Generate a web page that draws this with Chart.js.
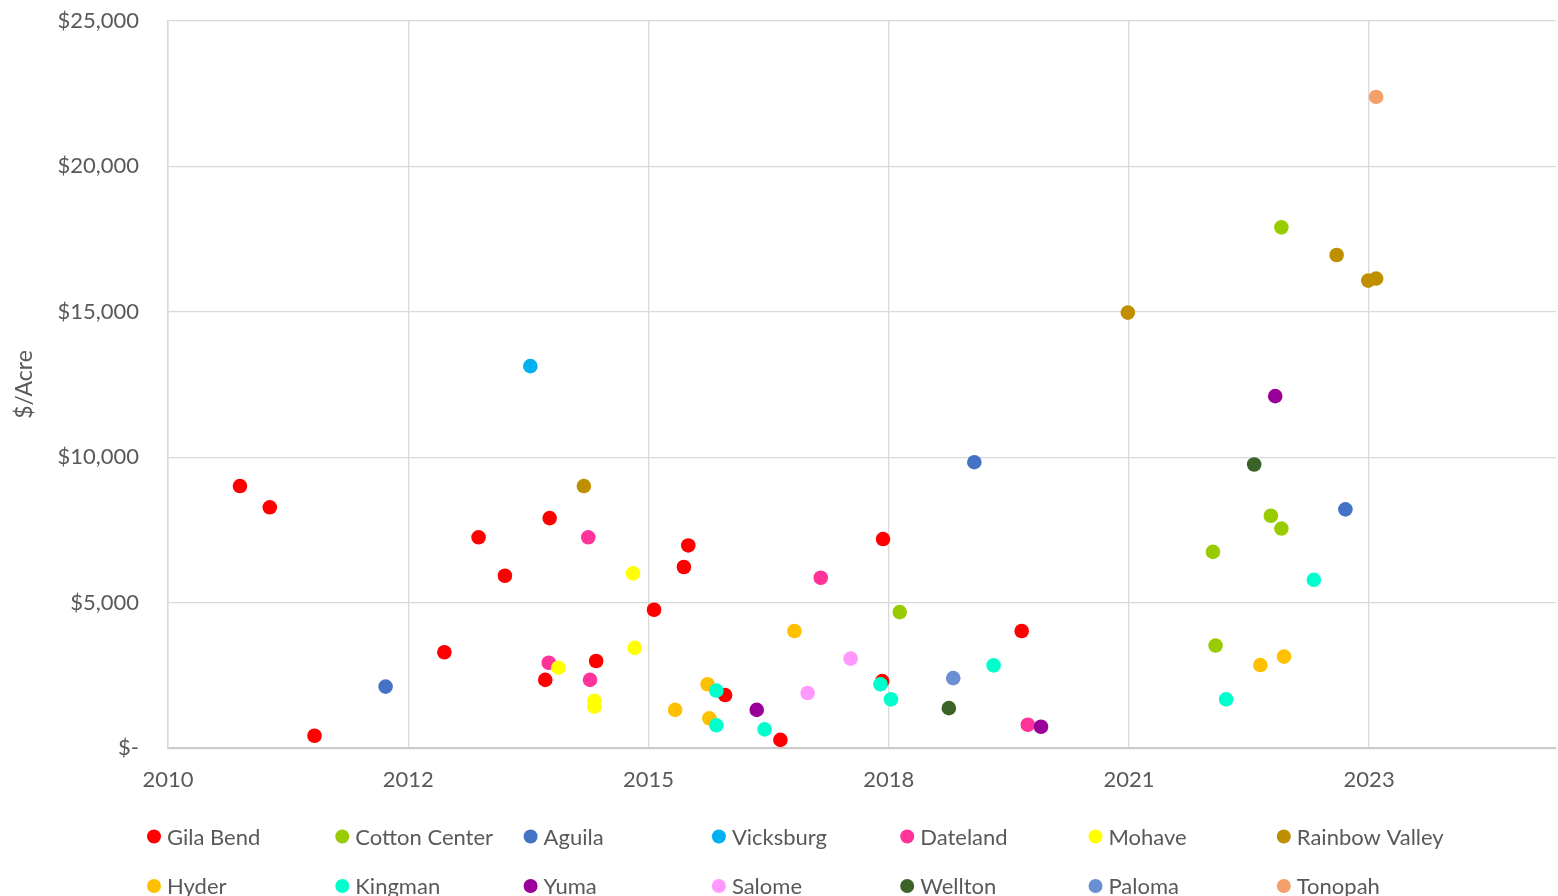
<!DOCTYPE html>
<html>
<head>
<meta charset="utf-8">
<title>$/Acre</title>
<script src="https://cdn.jsdelivr.net/npm/chart.js@4.4.1/dist/chart.umd.min.js"></script>
<style>
  html, body { margin: 0; padding: 0; background: #fff; overflow: hidden; }
  #wrap { width: 1558px; height: 896px; }
  canvas { display: block; }
</style>
</head>
<body>
<div id="wrap"><canvas id="landChart" width="1558" height="896"></canvas></div>
<script>
// sale date (decimal year), price per acre
const gilaBend = [
    [2011.02, 9010], [2011.36, 8280], [2011.87, 430], [2013.35, 3300], [2013.74, 7250],
    [2014.04, 5930], [2014.55, 7910], [2014.50, 2350], [2015.08, 3000], [2015.74, 4760],
    [2016.13, 6970], [2016.08, 6230], [2016.55, 1830], [2017.18, 290], [2018.35, 7190],
    [2018.34, 2310], [2019.93, 4030]
];
const cottonCenter = [[2018.54, 4680], [2022.11, 6750], [2022.14, 3530], [2022.89, 17900], [2022.77, 7990], [2022.89, 7550]];
const aguila = [[2012.68, 2120], [2019.39, 9830], [2023.62, 8210]];
const vicksburg = [[2014.33, 13130]];
const dateland = [[2014.99, 7250], [2014.54, 2940], [2015.01, 2350], [2017.64, 5860], [2020.00, 810]];
const mohave = [[2015.50, 6010], [2014.65, 2770], [2015.52, 3450], [2015.06, 1630], [2015.06, 1430]];
const rainbowValley = [[2014.94, 9010], [2021.14, 14970], [2023.52, 16950], [2023.88, 16070], [2023.97, 16140]];
const hyder = [[2015.98, 1320], [2016.35, 2200], [2016.37, 1030], [2017.34, 4030], [2022.65, 2860], [2022.92, 3150]];
const kingman = [
    [2016.45, 1980], [2016.45, 790], [2017.00, 650], [2018.32, 2200], [2018.44, 1680],
    [2019.61, 2850], [2022.26, 1680], [2023.26, 5790]
];
const yuma = [[2016.91, 1320], [2020.15, 740], [2022.82, 12100]];
const salome = [[2017.49, 1900], [2017.98, 3080]];
const wellton = [[2019.10, 1380], [2022.58, 9750]];
const paloma = [[2019.15, 2410]];
const tonopah = [[2023.97, 22380]];

const areas = ['Gila Bend', 'Cotton Center', 'Aguila', 'Vicksburg', 'Dateland', 'Mohave', 'Rainbow Valley',
    'Hyder', 'Kingman', 'Yuma', 'Salome', 'Wellton', 'Paloma', 'Tonopah'];
const areaSales = [gilaBend, cottonCenter, aguila, vicksburg, dateland, mohave, rainbowValley,
    hyder, kingman, yuma, salome, wellton, paloma, tonopah];
const areaColors = ['#ff0000', '#99cc00', '#4472c4', '#00b0f0', '#ff3399', '#ffff00', '#bf8f00',
    '#ffc000', '#00ffcc', '#990099', '#ff99ff', '#3b6327', '#6b8fd4', '#f4a06a'];

// excel date axis: major unit of 1000 days, labels shown as yyyy
const xTickValues = [2010.2, 2012.938, 2015.676, 2018.414, 2021.152, 2023.89];
const xTickLabels = ['2010', '2012', '2015', '2018', '2021', '2023'];
const yTickValues = [0, 5000, 10000, 15000, 20000, 25000];
const yTickLabels = ['$-', '$5,000', '$10,000', '$15,000', '$20,000', '$25,000'];

const textColor = '#595959';
const fontFamily = 'Lato, "Liberation Sans", sans-serif';

const legendPlugin = {
    id: 'bottomLegend',
    afterDraw(chart) {
        const c = chart.ctx;
        c.save();
        c.font = '22px ' + fontFamily;
        c.textBaseline = 'middle';
        c.textAlign = 'left';
        chart.data.datasets.forEach((ds, i) => {
            const col = i % 7;
            const row = Math.floor(i / 7);
            const mx = 154 + col * 188.3;
            const my = 836.5 + row * 49.5;
            c.beginPath();
            c.arc(mx, my, 7, 0, Math.PI * 2);
            c.fillStyle = ds.backgroundColor;
            c.fill();
            c.fillStyle = textColor;
            c.fillText(ds.label, mx + 13, my + 1);
        });
        c.restore();
    }
};

function desenharGrafico() {
    const datasets = areas.map((nome, i) => ({
        label: nome,
        data: areaSales[i].map(p => ({ x: p[0], y: p[1] })),
        backgroundColor: areaColors[i],
        borderColor: areaColors[i],
        borderWidth: 0,
        pointRadius: 7.3,
        order: areas.length - i
    }));

    const ctx = document.getElementById('landChart').getContext('2d');
    new Chart(ctx, {
        type: 'scatter',
        data: { datasets: datasets },
        options: {
            responsive: false,
            animation: false,
            devicePixelRatio: 1,
            layout: { autoPadding: false, padding: { left: 0, right: 2, top: 20.7, bottom: 87.7 } },
            plugins: {
                legend: { display: false },
                tooltip: { enabled: false }
            },
            scales: {
                x: {
                    type: 'linear',
                    min: 2010.2,
                    max: 2026.02,
                    afterBuildTicks: s => { s.ticks = xTickValues.map(v => ({ value: v })); },
                    afterFit: s => {
                        s.height = 60;
                        s.paddingLeft = 0;
                        s.paddingRight = 0;
                    },
                    grid: { color: '#d9d9d9', lineWidth: 1.3, drawTicks: false },
                    border: { color: '#cccccc', width: 2 },
                    ticks: {
                        padding: 18.5,
                        color: textColor,
                        font: { family: fontFamily, size: 22 },
                        maxRotation: 0,
                        autoSkip: false,
                        callback: (v, i) => xTickLabels[i]
                    }
                },
                y: {
                    min: 0,
                    max: 25000,
                    afterBuildTicks: s => { s.ticks = yTickValues.map(v => ({ value: v })); },
                    afterFit: s => {
                        s.width = 168;
                        s.paddingTop = 0;
                        s.paddingBottom = 0;
                    },
                    grid: { color: '#d9d9d9', lineWidth: 1.3, drawTicks: false },
                    border: { color: '#d9d9d9', width: 1.5 },
                    ticks: {
                        padding: 29,
                        color: textColor,
                        font: { family: fontFamily, size: 22 },
                        callback: (v, i) => yTickLabels[i]
                    },
                    title: {
                        display: true,
                        text: '$/Acre',
                        color: textColor,
                        font: { family: fontFamily, size: 23 },
                        padding: { top: 11, bottom: 0 }
                    }
                }
            }
        },
        plugins: [legendPlugin]
    });
}

document.addEventListener('DOMContentLoaded', () => {
    document.fonts.load('22px Lato').then(desenharGrafico, desenharGrafico);
});
</script>
</body>
</html>
